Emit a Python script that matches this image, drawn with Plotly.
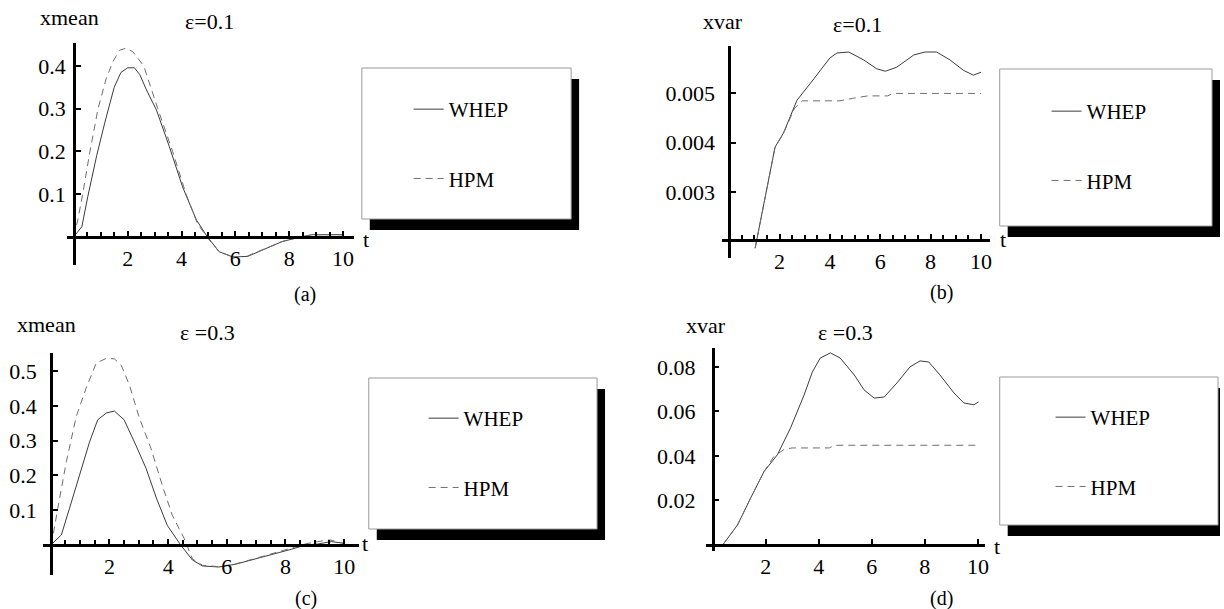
import plotly.graph_objects as go

# ---------------- data ----------------
# (a) xmean, eps = 0.1
t_a_whep = [0, 0.3, 0.52, 0.85, 1.15, 1.5, 1.75, 2.0, 2.25, 2.45, 2.7, 3.07, 3.55, 4.04, 4.55, 4.96, 5.4, 5.9, 6.45, 7.15, 7.74, 8.25, 8.85, 10.0]
v_a_whep = [0, 0.024, 0.094, 0.19, 0.267, 0.35, 0.385, 0.396, 0.396, 0.38, 0.344, 0.297, 0.211, 0.117, 0.04, 0, -0.035, -0.047, -0.046, -0.026, -0.011, -0.003, 0.005, 0.005]
t_a_hpm = [0, 0.15, 0.33, 0.6, 0.9, 1.2, 1.45, 1.7, 1.95, 2.2, 2.6, 3.12, 3.67, 4.17, 4.6, 5.0, 5.4, 5.9, 6.45, 7.15, 7.74, 8.25, 8.85, 10.0]
v_a_hpm = [0, 0.04, 0.1, 0.2, 0.3, 0.37, 0.41, 0.437, 0.442, 0.433, 0.4, 0.3, 0.2, 0.1, 0.03, -0.005, -0.035, -0.047, -0.045, -0.026, -0.011, -0.003, 0.005, 0.005]

# (b) xvar, eps = 0.1
t_b_whep = [1.03, 1.5, 1.82, 2.16, 2.69, 3.37, 4.0, 4.28, 4.75, 5.34, 5.86, 6.2, 6.65, 7.33, 7.78, 8.24, 8.77, 9.3, 9.7, 10.0]
v_b_whep = [0.00186, 0.0031, 0.00391, 0.0042, 0.00486, 0.0053, 0.00572, 0.00582, 0.00584, 0.00568, 0.0055, 0.00545, 0.00553, 0.00578, 0.00584, 0.00584, 0.00568, 0.00547, 0.00537, 0.00543]
t_b_hpm = [1.03, 1.5, 1.82, 2.16, 2.6, 2.9, 4.4, 4.9, 5.5, 6.3, 6.5, 10.0]
v_b_hpm = [0.00186, 0.0031, 0.0039, 0.0042, 0.0047, 0.00485, 0.00485, 0.0049, 0.00495, 0.00495, 0.005, 0.005]

# (c) xmean, eps = 0.3
t_c_whep = [0, 0.36, 0.64, 0.98, 1.32, 1.6, 1.9, 2.17, 2.5, 2.9, 3.25, 3.6, 3.97, 4.43, 4.83, 5.17, 5.73, 6.3, 7.08, 7.76, 8.2, 8.67, 9.1, 9.57, 10.0]
v_c_whep = [0, 0.029, 0.106, 0.2, 0.296, 0.36, 0.38, 0.385, 0.36, 0.287, 0.22, 0.135, 0.057, 0, -0.043, -0.06, -0.063, -0.055, -0.038, -0.023, -0.012, 0, 0.003, 0.01, 0.005]
t_c_hpm = [0, 0.06, 0.24, 0.53, 0.87, 1.2, 1.55, 1.9, 2.17, 2.4, 2.68, 3.02, 3.41, 3.8, 4.14, 4.54, 4.83, 5.17, 5.73, 6.3, 7.08, 7.76, 8.2, 8.67, 9.1, 9.5, 10.0]
v_c_hpm = [0, 0.02, 0.106, 0.24, 0.37, 0.45, 0.523, 0.537, 0.535, 0.517, 0.46, 0.365, 0.279, 0.172, 0.086, 0.02, -0.04, -0.058, -0.062, -0.054, -0.036, -0.02, -0.008, 0.003, 0.01, 0.015, 0.005]

# (d) xvar, eps = 0.3
t_d_whep = [0.38, 0.94, 1.43, 1.94, 2.44, 2.94, 3.45, 3.76, 4.06, 4.44, 4.81, 5.34, 5.71, 6.09, 6.47, 6.95, 7.44, 7.82, 8.15, 8.57, 9.1, 9.47, 9.85, 10.03]
v_d_whep = [0.0, 0.009, 0.021, 0.033, 0.0405, 0.0526, 0.0674, 0.0777, 0.084, 0.0863, 0.084, 0.0764, 0.0697, 0.066, 0.0665, 0.0728, 0.08, 0.0827, 0.0822, 0.0764, 0.0683, 0.0638, 0.063, 0.0643]
t_d_hpm = [0.38, 0.94, 1.43, 1.94, 2.3, 2.7, 3.0, 4.4, 4.6, 10.0]
v_d_hpm = [0.0, 0.009, 0.021, 0.033, 0.0396, 0.043, 0.0436, 0.0436, 0.0448, 0.0448]

x_tickvals = [2, 4, 6, 8, 10]
x_ticktext = ["2", "4", "6", "8", "10"]
y_ticks_a = [0.1, 0.2, 0.3, 0.4]
y_ticks_b = [0.003, 0.004, 0.005]
y_ticks_c = [0.1, 0.2, 0.3, 0.4, 0.5]
y_ticks_d = [0.02, 0.04, 0.06, 0.08]
y_text_a = ["0.1", "0.2", "0.3", "0.4"]
y_text_b = ["0.003", "0.004", "0.005"]
y_text_c = ["0.1", "0.2", "0.3", "0.4", "0.5"]
y_text_d = ["0.02", "0.04", "0.06", "0.08"]
series_names = ["WHEP", "HPM"]

# ---------------- layout helpers ----------------
W, H = 1224, 609
FONT = "Liberation Serif"
TICK_SIZE = 22
LABEL_SIZE = 22
LEGEND_SIZE = 21


def px(x):
    return x / W


def py(y):
    return 1 - y / H


panels = [
    dict(key="a", box=(67, 355, 43, 265), xr=[-0.26, 10.4], yr=[-0.066, 0.454], cross=0.0,
         yt=y_ticks_a, ytt=y_text_a, minor=True, ystand=3,
         data=(t_a_whep, v_a_whep, t_a_hpm, v_a_hpm),
         ylab=("xmean", 70, 18), eps=("ε=0.1", 210, 22), tag=("(a)", 306, 294), tlab=(367, 239),
         lbox=(363, 68, 573, 219), lx=448, ly=89),
    dict(key="b", box=(724, 993, 45.6, 257.6), xr=[-0.3, 10.35], yr=[0.00167, 0.00597], cross=0.00203,
         yt=y_ticks_b, ytt=y_text_b, minor=True, ystand=9,
         data=(t_b_whep, v_b_whep, t_b_hpm, v_b_hpm),
         ylab=("xvar", 725, 22), eps=("ε=0.1", 860, 25), tag=("(b)", 945, 292), tlab=(1006, 239),
         lbox=(1003, 69, 1216, 226), lx=1088, ly=91),
    dict(key="c", box=(43, 360, 353, 575), xr=[-0.27, 10.5], yr=[-0.086, 0.552], cross=0.0,
         yt=y_ticks_c, ytt=y_text_c, minor=True, ystand=9,
         data=(t_c_whep, v_c_whep, t_c_hpm, v_c_hpm),
         ylab=("xmean", 47, 324), eps=("ε =0.3", 208, 332), tag=("(c)", 307, 598), tlab=(366, 543),
         lbox=(370, 378, 599, 529), lx=463, ly=398),
    dict(key="d", box=(708, 988, 348, 551), xr=[-0.26, 10.26], yr=[-0.0027, 0.0885], cross=0.0,
         yt=y_ticks_d, ytt=y_text_d, minor=False, ystand=12,
         data=(t_d_whep, v_d_whep, t_d_hpm, v_d_hpm),
         ylab=("xvar", 708, 325), eps=("ε =0.3", 848, 332), tag=("(d)", 945, 598), tlab=(1000, 546),
         lbox=(1003, 377, 1222, 525), lx=1092, ly=397),
]

fig = go.Figure()
layout = dict(
    width=W, height=H,
    margin=dict(l=0, r=0, t=0, b=0),
    paper_bgcolor="white", plot_bgcolor="rgba(0,0,0,0)",
    font=dict(family=FONT, size=LABEL_SIZE, color="black"),
    showlegend=True,
)
annotations = []
shapes = []

for i, p in enumerate(panels):
    n = "" if i == 0 else str(i + 1)
    xa, ya = "x" + n, "y" + n
    leg = "legend" + n
    L, R, T, B = p["box"]
    xd = [px(L), px(R)]
    yd = [py(B), py(T)]
    # position of the crossing axes (in paper fractions)
    xpos_y0 = yd[0] + (p["cross"] - p["yr"][0]) / (p["yr"][1] - p["yr"][0]) * (yd[1] - yd[0])
    ypos_x0 = xd[0] + (0 - p["xr"][0]) / (p["xr"][1] - p["xr"][0]) * (xd[1] - xd[0])

    xaxis = dict(
        domain=xd, range=p["xr"], anchor="free", position=xpos_y0,
        showline=True, linecolor="black", linewidth=2.5,
        showgrid=False, zeroline=False,
        tickmode="array", tickvals=x_tickvals, ticktext=x_ticktext,
        ticks="inside", ticklen=5, tickwidth=2, tickcolor="black",
        tickfont=dict(family=FONT, size=TICK_SIZE, color="black"),
        ticklabelstandoff=1,
    )
    if p["minor"]:
        xaxis["minor"] = dict(tick0=0, dtick=0.5, ticks="inside", ticklen=4, tickwidth=2, tickcolor="black")
    yaxis = dict(
        domain=yd, range=p["yr"], anchor="free", position=ypos_x0,
        showline=True, linecolor="black", linewidth=2.5,
        showgrid=False, zeroline=False,
        tickmode="array", tickvals=p["yt"], ticktext=p["ytt"],
        ticks="inside", ticklen=5, tickwidth=1.5, tickcolor="black",
        tickfont=dict(family=FONT, size=TICK_SIZE, color="black"),
        ticklabelstandoff=p["ystand"],
    )
    layout["xaxis" + n] = xaxis
    layout["yaxis" + n] = yaxis

    tw, vw, th, vh = p["data"]
    fig.add_trace(go.Scatter(x=tw, y=vw, mode="lines", name=series_names[0],
                             line=dict(color="#3c3c3c", width=1),
                             xaxis=xa, yaxis=ya, legend=leg, legendgroup=p["key"] + "1"))
    fig.add_trace(go.Scatter(x=th, y=vh, mode="lines", name=series_names[1],
                             line=dict(color="#6e6e6e", width=1, dash="7px,5px"),
                             xaxis=xa, yaxis=ya, legend=leg, legendgroup=p["key"] + "2"))

    layout[leg] = dict(
        x=px(p["lx"] - 38), y=py(p["ly"]), xanchor="left", yanchor="top",
        bgcolor="rgba(0,0,0,0)", borderwidth=0,
        font=dict(family=FONT, size=LEGEND_SIZE, color="black"),
        traceorder="grouped", tracegroupgap=39, itemwidth=30,
    )

    # legend frame with drop shadow
    bx0, by0, bx1, by1 = p["lbox"]
    shapes.append(dict(type="rect", xref="paper", yref="paper",
                       x0=px(bx0 + 8), x1=px(min(bx1 + 8, W)), y0=py(by0 + 11), y1=py(by1 + 11),
                       fillcolor="black", line=dict(width=0), layer="above"))
    shapes.append(dict(type="rect", xref="paper", yref="paper",
                       x0=px(bx0), x1=px(bx1), y0=py(by0), y1=py(by1),
                       fillcolor="white", line=dict(color="#9a9a9a", width=1), layer="above"))

    for txt, cx, cy in (p["ylab"], p["eps"]):
        annotations.append(dict(text=txt, x=px(cx), y=py(cy), xref="paper", yref="paper",
                                xanchor="center", yanchor="middle", showarrow=False,
                                font=dict(family=FONT, size=LABEL_SIZE, color="black")))
    tag, tx, ty = p["tag"]
    annotations.append(dict(text=tag, x=px(tx), y=py(ty), xref="paper", yref="paper",
                            xanchor="center", yanchor="middle", showarrow=False,
                            font=dict(family=FONT, size=20, color="black")))
    annotations.append(dict(text="t", x=px(p["tlab"][0]), y=py(p["tlab"][1]), xref="paper", yref="paper",
                            xanchor="center", yanchor="middle", showarrow=False,
                            font=dict(family=FONT, size=LABEL_SIZE, color="black")))

layout["annotations"] = annotations
layout["shapes"] = shapes
fig.update_layout(**layout)
fig.write_html("out.html",
               config={"displayModeBar": False},
               post_script="document.body.style.margin='0px';document.body.style.overflow='hidden';")
